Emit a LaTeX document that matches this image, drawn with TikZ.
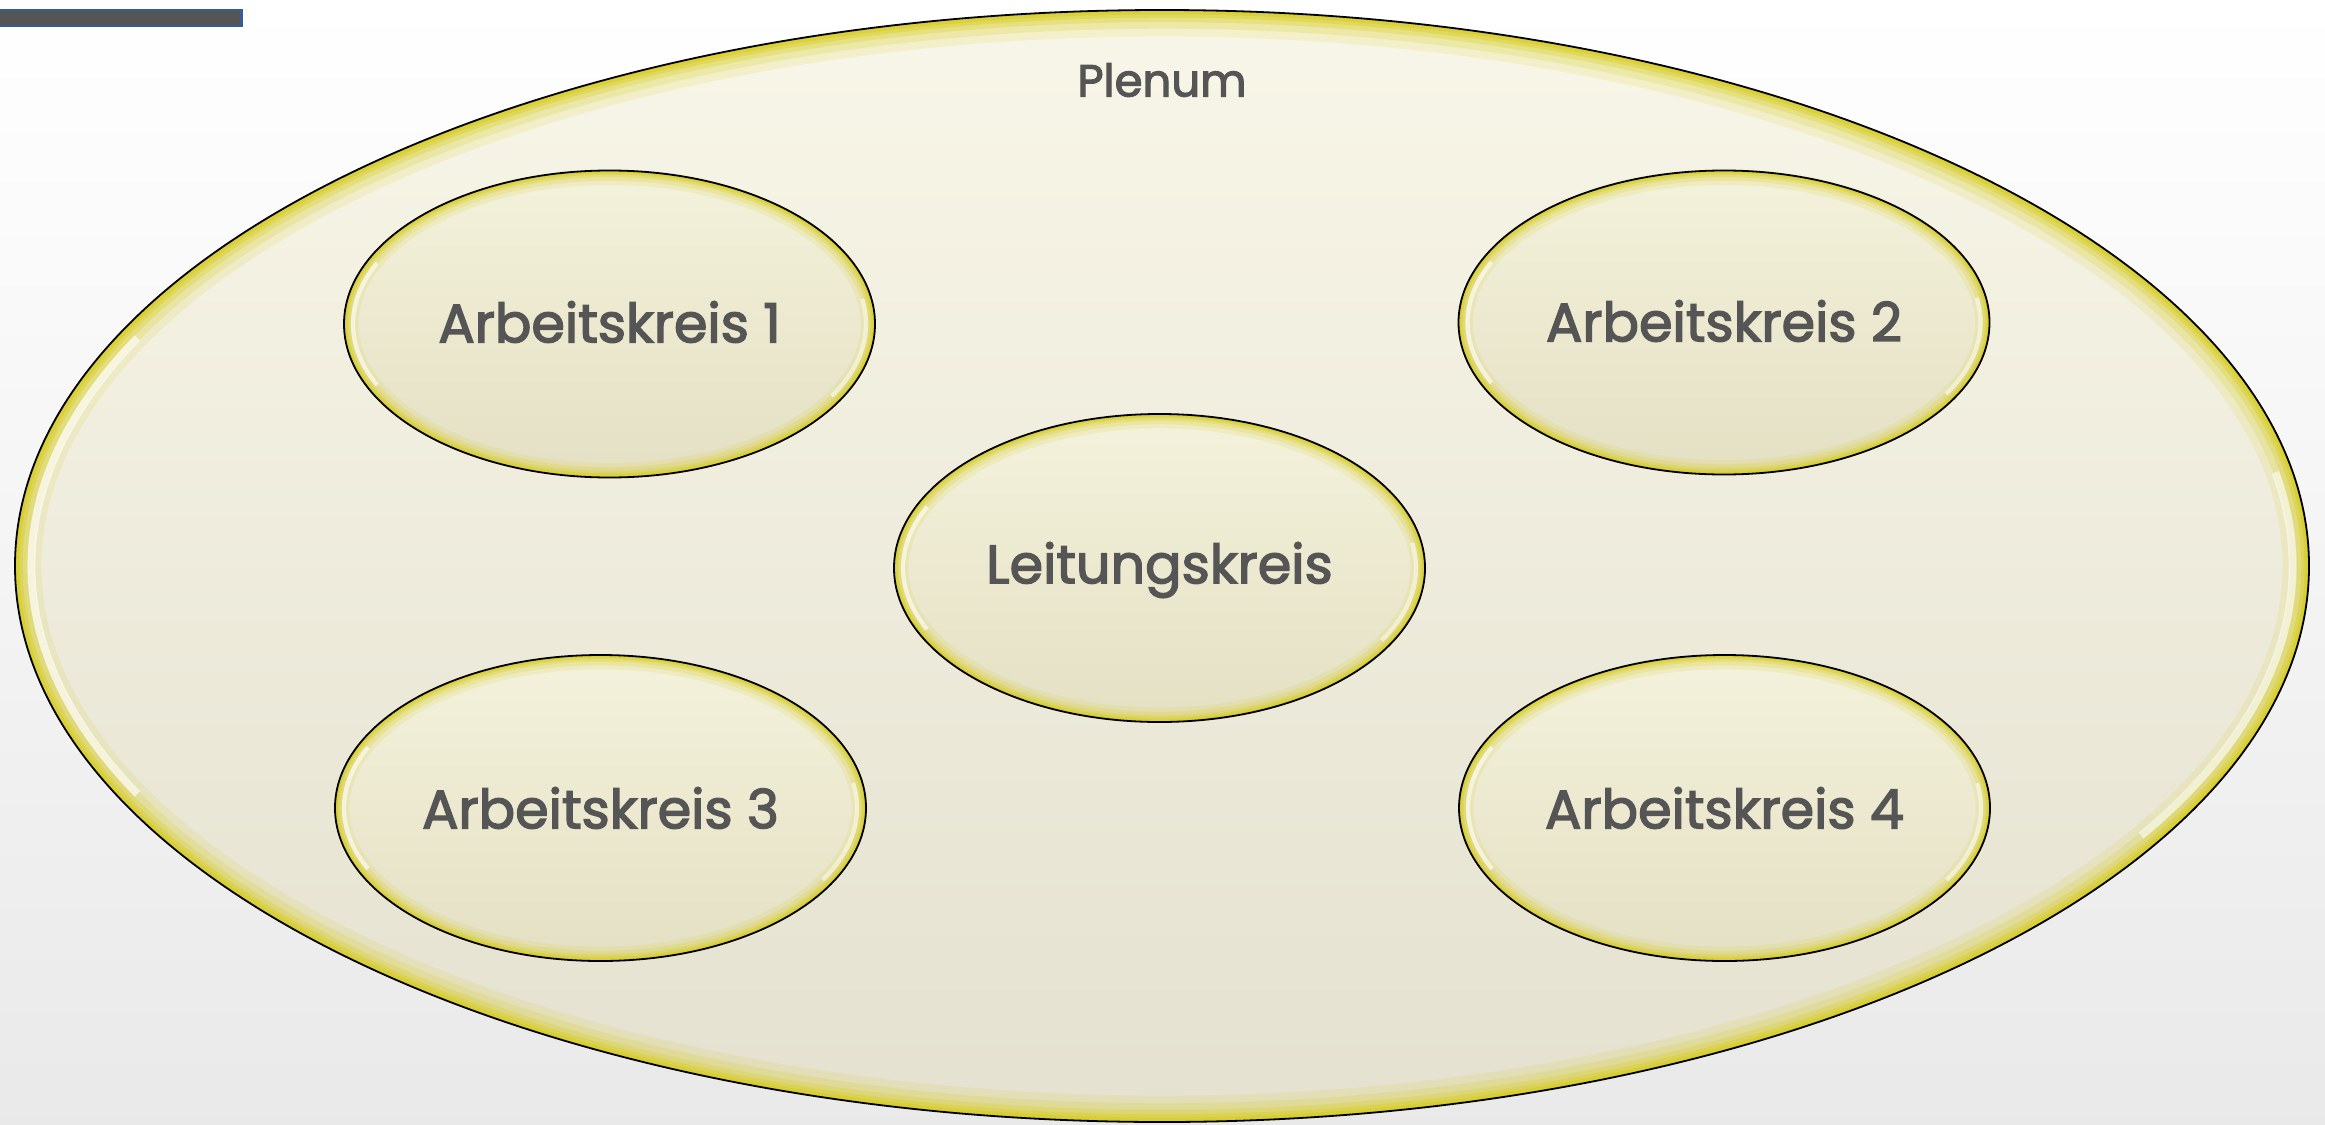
\documentclass[tikz,border=0pt]{standalone}
\usepackage{fontspec}
\setmainfont{Poppins}
\newfontfamily\lblfont{Poppins}[FakeBold=2.6]
\usetikzlibrary{shapes.geometric}
\definecolor{txt}{HTML}{555555}
\definecolor{glow}{RGB}{214,204,30}
\definecolor{bigtop}{RGB}{248,246,232}
\definecolor{bigbot}{RGB}{228,225,208}
\definecolor{smtop}{RGB}{244,242,220}
\definecolor{smbot}{RGB}{228,224,196}
\definecolor{barfill}{HTML}{555555}
\definecolor{barline}{HTML}{3A5A98}
\newcommand\glowring[5]{% cx cy rx ry scale
  \begin{scope}
    \clip (#1,#2) ellipse [x radius=#3, y radius=#4];
    \foreach \w/\o in {48/0.14,34/0.2,22/0.28,14/0.38,8/0.5,3/0.6}{%
      \draw[glow, line width=#5*\w pt, opacity=\o] (#1,#2) ellipse [x radius=#3, y radius=#4];}
    \draw[white, line width=#5*7pt, opacity=0.65]
      ({#1+(#3-#5*15)*cos(155)},{#2+(#4-#5*15)*sin(155)}) arc[start angle=155, end angle=205, x radius=#3-#5*15, y radius=#4-#5*15];
    \draw[white, line width=#5*7pt, opacity=0.55]
      ({#1+(#3-#5*15)*cos(-30)},{#2+(#4-#5*15)*sin(-30)}) arc[start angle=-30, end angle=10, x radius=#3-#5*15, y radius=#4-#5*15];
  \end{scope}
  \draw[black, line width=1.8pt] (#1,#2) ellipse [x radius=#3, y radius=#4];
}
\tikzset{
  x=1pt, y=1pt,
  bigell/.style={ellipse, inner sep=0pt, minimum width=2294pt, minimum height=1112pt, top color=bigtop, bottom color=bigbot},
  smell/.style={ellipse, inner sep=0pt, minimum width=531pt, minimum height=306pt, top color=smtop, bottom color=smbot,
    text=txt, font=\lblfont\fontsize{54}{62}\selectfont},
  lbl/.style={text=txt, font=\lblfont\fontsize{45}{52}\selectfont}
}
\begin{document}
\begin{tikzpicture}
\useasboundingbox (0,0) rectangle (2325,-1124);
\shade[top color=white, bottom color=gray!17] (0,0) rectangle (2325,-1124);
\node[draw=barline, fill=barfill, line width=2.5pt, minimum width=250pt, minimum height=16pt, inner sep=0pt, anchor=north west] (bar) at (-10,-9) {};
\node[bigell] (plenum) at (1162,-566) {};
\glowring{1162}{-566}{1147}{556}{1.1}
\node[lbl] (plenumlbl) at (1162,-80) {Plenum};
\node[smell] (ak1) at (609.5,-322) {Arbeitskreis 1};
\glowring{609.5}{-324}{265.5}{153.5}{0.6}
\node[smell] (ak2) at (1724,-321) {Arbeitskreis 2};
\glowring{1724}{-322.5}{265.5}{152}{0.6}
\node[smell] (lk) at (1159.5,-570) {Leitungskreis};
\glowring{1159.5}{-568}{265.5}{154}{0.6}
\node[smell] (ak3) at (600.5,-808) {Arbeitskreis 3};
\glowring{600.5}{-808}{265.5}{153}{0.6}
\node[smell] (ak4) at (1724.5,-808) {Arbeitskreis 4};
\glowring{1724.5}{-808}{265.5}{153}{0.6}
\end{tikzpicture}
\end{document}
